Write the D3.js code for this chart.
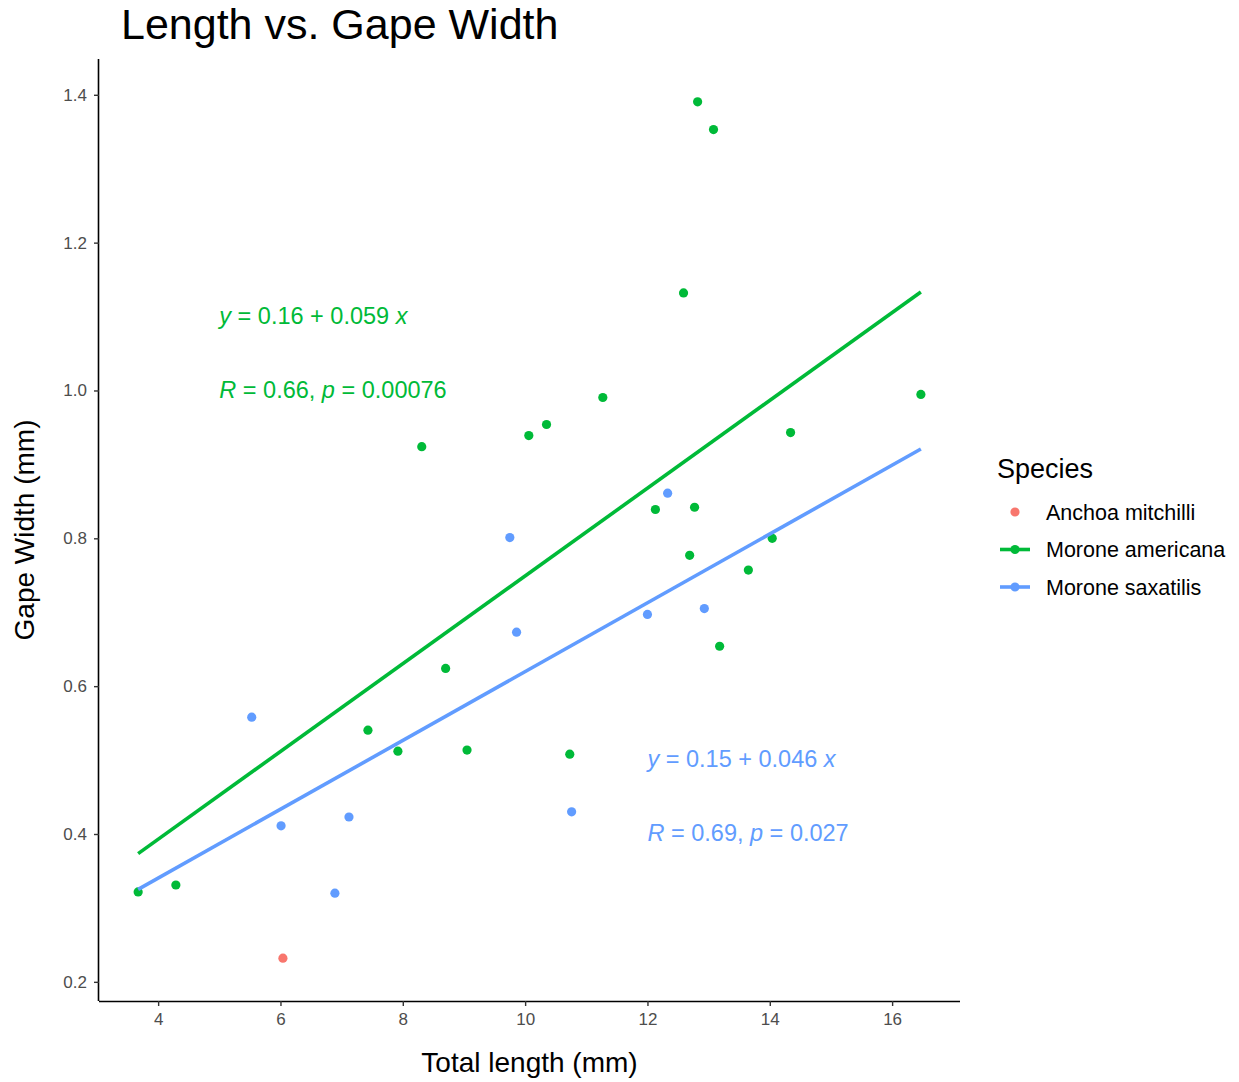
<!DOCTYPE html>
<html><head><meta charset="utf-8">
<script src="https://cdn.jsdelivr.net/npm/d3@7"></script>
<style>body{margin:0;background:#fff}svg{display:block;font-family:"Liberation Sans",Arial,Helvetica,sans-serif}</style>
</head><body><svg id="chart" width="1239" height="1082"></svg>
<script>
// ---- data ----
const species = ["Anchoa mitchilli", "Morone americana", "Morone saxatilis"];
const speciesColors = ["#F8766D", "#00BA38", "#619CFF"];
const anchoaLength = [6.04];
const anchoaGape = [0.232];
const americanaLength = [3.673, 4.29, 7.43, 7.92, 8.31, 8.70, 9.05, 10.06, 10.35, 10.73, 11.27, 12.13, 12.59, 12.69, 12.77, 12.82, 13.08, 13.18, 13.65, 14.04, 14.34, 16.47];
const americanaGape = [0.3216, 0.331, 0.5405, 0.512, 0.924, 0.624, 0.5135, 0.939, 0.954, 0.508, 0.9905, 0.839, 1.132, 0.777, 0.842, 1.3905, 1.353, 0.654, 0.757, 0.800, 0.943, 0.9946];
const saxatilisLength = [5.53, 6.01, 6.89, 7.12, 9.75, 9.86, 10.76, 12.0, 12.33, 12.93];
const saxatilisGape = [0.558, 0.411, 0.320, 0.423, 0.801, 0.673, 0.430, 0.697, 0.861, 0.705];
const xTicks = [4, 6, 8, 10, 12, 14, 16];
const yTicks = [0.2, 0.4, 0.6, 0.8, 1.0, 1.2, 1.4];
// regression labels (from the picture)
const eqSpecies = ["Morone americana", "Morone saxatilis"];
const eqText = [["0.16", "0.059"], ["0.15", "0.046"]];
const corText = [["0.66", "0.00076"], ["0.69", "0.027"]];
const eqPos = [[5, 1.1], [12, 0.5]];
const corPos = [[5, 1.0], [12, 0.4]];

const groups = [
  {name: species[0], xs: anchoaLength, ys: anchoaGape, fit: false},
  {name: species[1], xs: americanaLength, ys: americanaGape, fit: true},
  {name: species[2], xs: saxatilisLength, ys: saxatilisGape, fit: true}
];
const color = d3.scaleOrdinal().domain(species).range(speciesColors);

const svg = d3.select("#chart");
const L = 99, R = 960, T = 59, B = 1001;
const allX = groups.flatMap(g => g.xs), allY = groups.flatMap(g => g.ys);
const xExt = d3.extent(allX), yExt = d3.extent(allY);
const xPad = (xExt[1] - xExt[0]) * 0.05, yPad = (yExt[1] - yExt[0]) * 0.05;
const x = d3.scaleLinear().domain([xExt[0] - xPad, xExt[1] + xPad]).range([L, R]);
const y = d3.scaleLinear().domain([yExt[0] - yPad, yExt[1] + yPad]).range([B, T]);

// points
const pts = [];
[groups[0], groups[2], groups[1]].forEach(g => g.xs.forEach((v, i) => pts.push({x: v, y: g.ys[i], s: g.name})));
svg.append("g").selectAll("circle").data(pts).join("circle")
  .attr("cx", d => x(d.x)).attr("cy", d => y(d.y)).attr("r", 4.6)
  .attr("fill", d => color(d.s));

// regression lines (least squares, full data range)
function fit(xs, ys) {
  const mx = d3.mean(xs), my = d3.mean(ys);
  let sxy = 0, sxx = 0;
  xs.forEach((v, i) => { sxy += (v - mx) * (ys[i] - my); sxx += (v - mx) * (v - mx); });
  const b = sxy / sxx; return {a: my - b * mx, b};
}
groups.filter(g => g.fit).forEach(g => {
  const f = fit(g.xs, g.ys);
  const line = d3.line().x(d => x(d)).y(d => y(f.a + f.b * d));
  svg.append("path").attr("d", line(xExt)).attr("stroke", color(g.name))
    .attr("stroke-width", 3.6).attr("fill", "none");
});

// annotation texts
eqSpecies.forEach((s, i) => {
  const c = color(s);
  const t1 = svg.append("text").attr("x", x(eqPos[i][0])).attr("y", y(eqPos[i][1])).attr("dy", "0.3em")
    .attr("fill", c).attr("font-size", 23.5);
  t1.append("tspan").attr("font-style", "italic").text("y");
  t1.append("tspan").text(" = " + eqText[i][0] + " + " + eqText[i][1] + " ");
  t1.append("tspan").attr("font-style", "italic").text("x");
  const t2 = svg.append("text").attr("x", x(corPos[i][0])).attr("y", y(corPos[i][1])).attr("dy", "0.3em")
    .attr("fill", c).attr("font-size", 23.5);
  t2.append("tspan").attr("font-style", "italic").text("R");
  t2.append("tspan").text(" = " + corText[i][0] + ", ");
  t2.append("tspan").attr("font-style", "italic").text("p");
  t2.append("tspan").text(" = " + corText[i][1]);
});

// axes
const xAxis = svg.append("g").attr("transform", `translate(0,${B})`)
  .call(d3.axisBottom(x).tickValues(xTicks).tickFormat(d3.format("d")).tickSize(5).tickPadding(7));
const yAxis = svg.append("g").attr("transform", `translate(${L},0)`)
  .call(d3.axisLeft(y).tickValues(yTicks).tickFormat(d3.format(".1f")).tickSize(5).tickPadding(7));
[xAxis, yAxis].forEach(a => {
  a.select(".domain").attr("stroke", "#000").attr("stroke-width", 1.6);
  a.selectAll(".tick line").attr("stroke", "#333").attr("stroke-width", 1.4);
  a.selectAll(".tick text").attr("fill", "#4D4D4D").attr("font-size", 17).attr("font-family", "Liberation Sans, Arial, sans-serif");
});
xAxis.select(".domain").attr("d", `M${L},0.5H${R}`);
yAxis.select(".domain").attr("d", `M-0.5,${T}V${B}`);

// titles
svg.append("text").attr("x", 121).attr("y", 39).attr("font-size", 43).attr("fill", "#000").text("Length vs. Gape Width");
svg.append("text").attr("x", (L + R) / 2).attr("y", 1072).attr("text-anchor", "middle").attr("font-size", 28).text("Total length (mm)");
svg.append("text").attr("transform", `translate(34,${(T + B) / 2}) rotate(-90)`).attr("text-anchor", "middle")
  .attr("font-size", 28).text("Gape Width (mm)");

// legend
const lg = svg.append("g");
lg.append("text").attr("x", 997).attr("y", 478).attr("font-size", 27).text("Species");
species.forEach((s, i) => {
  const cy = 512 + i * 37.5;
  if (groups[i].fit) lg.append("line").attr("x1", 1000).attr("x2", 1030).attr("y1", cy).attr("y2", cy)
    .attr("stroke", color(s)).attr("stroke-width", 3.6);
  lg.append("circle").attr("cx", 1015).attr("cy", cy).attr("r", 4.6).attr("fill", color(s));
  lg.append("text").attr("x", 1046).attr("y", cy).attr("dy", "0.36em").attr("font-size", 21.5).text(s);
});
</script></body></html>
